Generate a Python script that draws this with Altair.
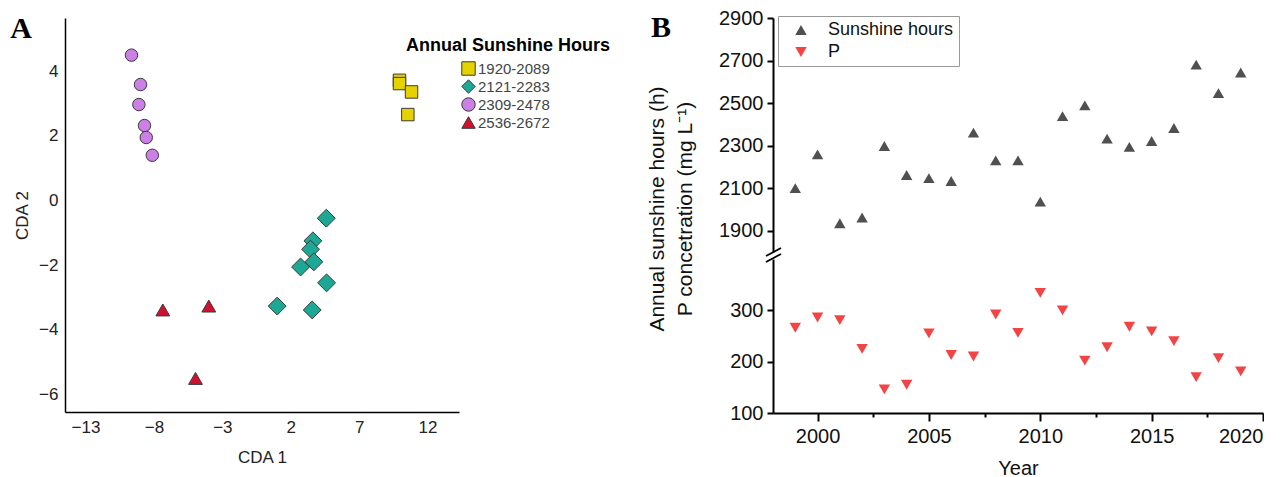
import altair as alt
import pandas as pd

# ---------------- Panel A data (CDA scores) ----------------
a_groups = ["1920-2089", "2121-2283", "2309-2478", "2536-2672"]
a_colors = ["#E6D200", "#1CA894", "#CC80E6", "#D0102E"]
a_shapes = ["square", "diamond", "circle", "triangle-up"]

sq_x = [9.95, 9.95, 10.83, 10.56]
sq_y = [3.72, 3.62, 3.36, 2.66]
di_x = [4.60, 3.62, 3.45, 3.69, 2.72, 4.62, 1.01, 3.57]
di_y = [-0.55, -1.25, -1.51, -1.90, -2.06, -2.55, -3.27, -3.39]
ci_x = [-9.64, -8.98, -9.10, -8.69, -8.56, -8.12]
ci_y = [4.50, 3.59, 2.97, 2.32, 1.95, 1.40]
tr_x = [-7.35, -3.99, -4.96]
tr_y = [-3.39, -3.27, -5.51]

a_x_ticks = [-13, -8, -3, 2, 7, 12]
a_y_ticks = [-6, -4, -2, 0, 2, 4]

# ---------------- Panel B data ----------------
years = [1999, 2000, 2001, 2002, 2003, 2004, 2005, 2006, 2007, 2008, 2009,
         2010, 2011, 2012, 2013, 2014, 2015, 2016, 2017, 2018, 2019]
sunshine = [2100, 2259, 1935, 1962, 2298, 2162, 2147, 2134, 2361, 2231, 2231,
            2037, 2439, 2489, 2333, 2294, 2322, 2383, 2681, 2547, 2644]
p_conc = [266, 286, 281, 225, 146, 155, 255, 213, 210, 292, 256,
          334, 300, 202, 228, 268, 259, 240, 170, 207, 181]
b_series = ["Sunshine hours", "P"]
b_colors = ["#505050", "#F24444"]
b_shapes = ["triangle-up", "triangle-down"]
b_x_ticks = [2000, 2002.5, 2005, 2007.5, 2010, 2012.5, 2015, 2017.5, 2020]
b_top_ticks = [1900, 2100, 2300, 2500, 2700, 2900]
b_bot_ticks = [100, 200, 300]

FONT = "Liberation Sans"
SERIF = "Liberation Serif"

rows = []
for g, xs, ys in zip(a_groups, [sq_x, di_x, ci_x, tr_x], [sq_y, di_y, ci_y, tr_y]):
    for xv, yv in zip(xs, ys):
        rows.append({"CDA1": xv, "CDA2": yv, "group": g})
dfA = pd.DataFrame(rows)

dfB = pd.DataFrame({
    "year": years + years,
    "value": sunshine + p_conc,
    "series": ["Sunshine hours"] * len(years) + ["P"] * len(years),
})

# ---------------- Panel A ----------------
A_W, A_H = 394, 394
axA = dict(ticks=False, grid=False, domainColor="black", domainWidth=1.5,
           labelFont=FONT, titleFont=FONT, labelFontSize=17, titleFontSize=17,
           titleFontWeight="normal", labelColor="#222", titleColor="#222")

size_rule = (alt.when(alt.datum.group == "2121-2283").then(alt.value(320))
             .when(alt.datum.group == "2536-2672").then(alt.value(190))
             .otherwise(alt.value(155)))

legA = alt.Legend(title="Annual Sunshine Hours", orient="none", legendX=341, legendY=19,
                  titleFont=FONT, titleFontSize=18, titleFontWeight="bold", titleColor="black",
                  titleLimit=400, titlePadding=6, labelFont=FONT, labelFontSize=15,
                  labelColor="#444", symbolSize=180, symbolOffset=55,
                  symbolStrokeColor="#3a3a3a", symbolStrokeWidth=1, rowPadding=2,
                  clipHeight=15, labelOffset=2)

ptsA = alt.Chart(dfA).mark_point(filled=True, opacity=1, stroke="#3a3a3a", strokeWidth=1).encode(
    x=alt.X("CDA1:Q", scale=alt.Scale(domain=[-14.5, 14.3], nice=False, zero=False),
            axis=alt.Axis(title="CDA 1", values=a_x_ticks, labelPadding=7, titlePadding=14, **axA)),
    y=alt.Y("CDA2:Q", scale=alt.Scale(domain=[-6.55, 5.65], nice=False, zero=False),
            axis=alt.Axis(title="CDA 2", values=a_y_ticks, labelPadding=7, titlePadding=7, **axA)),
    color=alt.Color("group:N", scale=alt.Scale(domain=a_groups, range=a_colors), legend=legA),
    shape=alt.Shape("group:N", scale=alt.Scale(domain=a_groups, range=a_shapes), legend=legA),
    size=size_rule,
)

labelA = alt.Chart(pd.DataFrame({"t": ["A"]})).mark_text(
    font=SERIF, fontWeight="bold", fontSize=30, color="black", align="center", baseline="middle"
).encode(text="t:N", x=alt.value(-44), y=alt.value(11))

panelA = alt.layer(ptsA, labelA).properties(width=A_W, height=A_H)

# ---------------- Panel B ----------------
B_W = 490
axB = dict(grid=False, domainColor="black", domainWidth=2, tickColor="black", tickWidth=2,
           labelFont=FONT, titleFont=FONT, labelFontSize=20, titleFontSize=20,
           titleFontWeight="normal", labelColor="#111", titleColor="#111")

legB = alt.Legend(title=None, orient="none", legendX=5, legendY=-2, strokeColor="#999",
                  fillColor="white", padding=5, symbolOffset=9, labelOffset=18,
                  labelFont=FONT, labelFontSize=18, labelColor="#111", symbolSize=130,
                  rowPadding=4, symbolStrokeWidth=0,
                  labelExpr="datum.label + '\u00a0\u00a0\u00a0'")

xscaleB = alt.Scale(domain=[1998, 2020], nice=False, zero=False)

top_pts = alt.Chart(dfB).transform_filter(alt.datum.series == "Sunshine hours").mark_point(
    filled=True, opacity=1, size=130, strokeWidth=0
).encode(
    x=alt.X("year:Q", scale=xscaleB, axis=None),
    y=alt.Y("value:Q", scale=alt.Scale(domain=[1800, 2900], nice=False, zero=False),
            axis=alt.Axis(title=None, values=b_top_ticks, format="d", tickSize=6,
                          labelPadding=4, **axB)),
    color=alt.Color("series:N", scale=alt.Scale(domain=b_series, range=b_colors), legend=legB),
    shape=alt.Shape("series:N", scale=alt.Scale(domain=b_series, range=b_shapes), legend=legB),
)

labelB = alt.Chart(pd.DataFrame({"t": ["B"]})).mark_text(
    font=SERIF, fontWeight="bold", fontSize=30, color="black", align="center", baseline="middle"
).encode(text="t:N", x=alt.value(-112), y=alt.value(10))

ytitleB = alt.Chart(pd.DataFrame({"k": [0]})).mark_text(
    text=["Annual sunshine hours (h)", "P concetration (mg L\u207b\u00b9)"],
    font=FONT, fontSize=21, color="#111", angle=270, align="center", baseline="middle",
    lineHeight=28
).encode(x=alt.value(-115), y=alt.value(191))

top = alt.layer(top_pts, labelB, ytitleB).properties(width=B_W, height=234)

bot_pts = alt.Chart(dfB).transform_filter(alt.datum.series == "P").mark_point(
    filled=True, opacity=1, size=130, strokeWidth=0
).encode(
    x=alt.X("year:Q", scale=xscaleB,
            axis=alt.Axis(title="Year", values=b_x_ticks, format="d",
                          labelExpr="datum.value % 5 == 0 ? datum.label : ''",
                          tickSize={"condition": {"test": "datum.value % 5 == 0", "value": 8}, "value": 4},
                          labelPadding=5, titlePadding=12, **axB)),
    y=alt.Y("value:Q", scale=alt.Scale(domain=[100, 400], nice=False, zero=False),
            axis=alt.Axis(title=None, values=b_bot_ticks, format="d", tickSize=6,
                          labelPadding=4, **axB)),
    color=alt.Color("series:N", scale=alt.Scale(domain=b_series, range=b_colors), legend=None),
    shape=alt.Shape("series:N", scale=alt.Scale(domain=b_series, range=b_shapes), legend=None),
)

brk = pd.DataFrame({"k": [0, 1]})
slash1 = alt.Chart(brk).transform_filter(alt.datum.k == 0).mark_rule(color="black", strokeWidth=1.8).encode(
    x=alt.value(-7), x2=alt.value(8), y=alt.value(-3), y2=alt.value(-11))
slash2 = alt.Chart(brk).transform_filter(alt.datum.k == 1).mark_rule(color="black", strokeWidth=1.8).encode(
    x=alt.value(-7), x2=alt.value(8), y=alt.value(3), y2=alt.value(-5))

bot = alt.layer(bot_pts, slash1, slash2).properties(width=B_W, height=154)

panelB = alt.vconcat(top, bot, spacing=7, bounds="flush").resolve_scale(
    color="independent", shape="independent").resolve_legend(color="independent", shape="independent")

chart = alt.hconcat(panelA, panelB, spacing=36).resolve_scale(
    color="independent", shape="independent"
).resolve_legend(color="independent", shape="independent").properties(
    padding={"top": 0, "left": 2, "right": 0, "bottom": 0}, background="white"
).configure_view(stroke=None)

chart.save("out.html", embed_options={"renderer": "svg", "actions": False})
